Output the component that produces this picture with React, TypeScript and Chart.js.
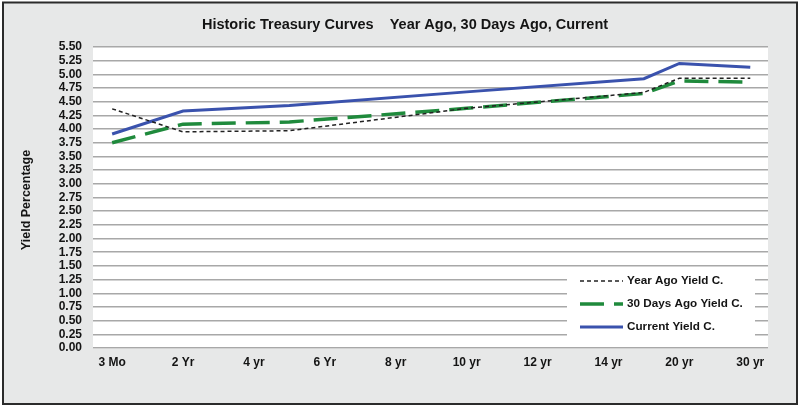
import { useEffect, useRef } from 'react';
import { Chart, registerables } from 'chart.js';

Chart.register(...registerables);

// x positions are in tick-label units (0 = "3 Mo", 9 = "30 yr")
const tickLabels = ['3 Mo', '2 Yr', '4 yr', '6 Yr', '8 yr', '10 yr', '12 yr', '14 yr', '20 yr', '30 yr'];
const pointPos = [0, 1, 2.5, 5, 7.5, 8, 9];
const yearAgo = [4.37, 3.95, 3.97, 4.38, 4.67, 4.93, 4.93];
const thirtyDaysAgo = [3.75, 4.09, 4.13, 4.38, 4.65, 4.88, 4.86];
const current = [3.91, 4.33, 4.43, 4.68, 4.92, 5.2, 5.13];

const FONT = '"Liberation Sans", Arial, sans-serif';
const TITLE = 'Historic Treasury Curves    Year Ago, 30 Days Ago, Current';

const toPoints = (vals: number[]) => vals.map((v, i) => ({ x: pointPos[i], y: v }));

const framePlugin = {
  id: 'frame',
  beforeDraw(chart: any) {
    const { ctx, chartArea } = chart;
    ctx.save();
    ctx.fillStyle = '#ffffff';
    ctx.fillRect(0, 0, chart.width, chart.height);
    ctx.fillStyle = '#e7e8e8';
    ctx.fillRect(3, 2, 794, 402);
    ctx.strokeStyle = '#2b2b2b';
    ctx.lineWidth = 2;
    ctx.strokeRect(3, 2.5, 794, 401.5);
    ctx.fillStyle = '#ffffff';
    ctx.fillRect(chartArea.left, chartArea.top - 1, chartArea.right - chartArea.left, chartArea.bottom - chartArea.top + 2);
    ctx.restore();
  },
  afterDraw(chart: any) {
    const { ctx } = chart;
    ctx.save();
    // title
    ctx.fillStyle = '#141414';
    ctx.font = `bold 14.5px ${FONT}`;
    ctx.textAlign = 'center';
    ctx.textBaseline = 'middle';
    ctx.fillText(TITLE, 405, 25);
    // y axis title
    ctx.save();
    ctx.translate(27, 200);
    ctx.rotate(-Math.PI / 2);
    ctx.font = `bold 12.5px ${FONT}`;
    ctx.fillText('Yield Percentage', 0, 0);
    ctx.restore();

    // legend inside plot area
    ctx.fillStyle = '#ffffff';
    ctx.fillRect(567, 270, 188, 71);
    const rows = [281, 304, 327];
    chart.data.datasets.forEach((ds: any, i: number) => {
      const y = rows[i];
      ctx.beginPath();
      ctx.strokeStyle = ds.borderColor;
      ctx.lineWidth = ds.borderWidth;
      ctx.setLineDash(ds.borderDash || []);
      ctx.moveTo(580, y);
      ctx.lineTo(623, y);
      ctx.stroke();
      ctx.setLineDash([]);
      ctx.fillStyle = '#141414';
      ctx.font = `bold 11.7px ${FONT}`;
      ctx.textAlign = 'left';
      ctx.textBaseline = 'middle';
      ctx.fillText(ds.label, 627, y);
    });
    ctx.restore();
  },
};

const App = () => {
  const canvasRef = useRef<HTMLCanvasElement | null>(null);

  useEffect(() => {
    document.body.style.margin = '0';
    if (!canvasRef.current) return;
    const chart = new Chart(canvasRef.current, {
      type: 'line',
      data: {
        datasets: [
          {
            label: 'Year Ago Yield C.',
            data: toPoints(yearAgo),
            borderColor: '#222222',
            borderWidth: 1.5,
            borderDash: [4, 3],
          },
          {
            label: '30 Days Ago Yield C.',
            data: toPoints(thirtyDaysAgo),
            borderColor: '#1f8a3c',
            borderWidth: 3.5,
            borderDash: [24, 10],
          },
          {
            label: 'Current Yield C.',
            data: toPoints(current),
            borderColor: '#3a52ad',
            borderWidth: 3,
          },
        ],
      },
      options: {
        animation: false,
        responsive: false,
        devicePixelRatio: 1,
        layout: { padding: { top: 47, right: 32, left: 0, bottom: 0 } },
        elements: {
          point: { radius: 0, hoverRadius: 0 },
          line: { tension: 0, borderCapStyle: 'butt', borderJoinStyle: 'miter' },
        },
        plugins: {
          legend: { display: false },
          title: { display: false },
          tooltip: { enabled: false },
        },
        scales: {
          x: {
            type: 'linear',
            min: -0.27,
            max: 9.25,
            afterFit: (s: any) => { s.height = 61; },
            afterBuildTicks: (s: any) => { s.ticks = tickLabels.map((_, i) => ({ value: i })); },
            grid: { display: false, drawTicks: false },
            border: { display: false },
            ticks: {
              padding: 7,
              autoSkip: false,
              maxRotation: 0,
              color: '#141414',
              font: { family: FONT, size: 12, weight: 'bold' },
              callback: (v: any) => tickLabels[Math.round(Number(v))] ?? '',
            },
          },
          y: {
            min: 0,
            max: 5.5,
            afterFit: (s: any) => { s.width = 93; },
            grid: { color: '#a8a8a8', lineWidth: 1.5, drawTicks: false },
            border: { display: false },
            ticks: {
              stepSize: 0.25,
              autoSkip: false,
              padding: 11,
              color: '#141414',
              font: { family: FONT, size: 12, weight: 'bold' },
              callback: (v: any) => Number(v).toFixed(2),
            },
          },
        },
      },
      plugins: [framePlugin],
    } as any);
    return () => {
      chart.destroy();
    };
  }, []);

  return (
    <div style={{ position: 'absolute', left: 0, top: 0, width: 800, height: 409 }}>
      <canvas ref={canvasRef} width={800} height={409}></canvas>
    </div>
  );
};

export default App;
